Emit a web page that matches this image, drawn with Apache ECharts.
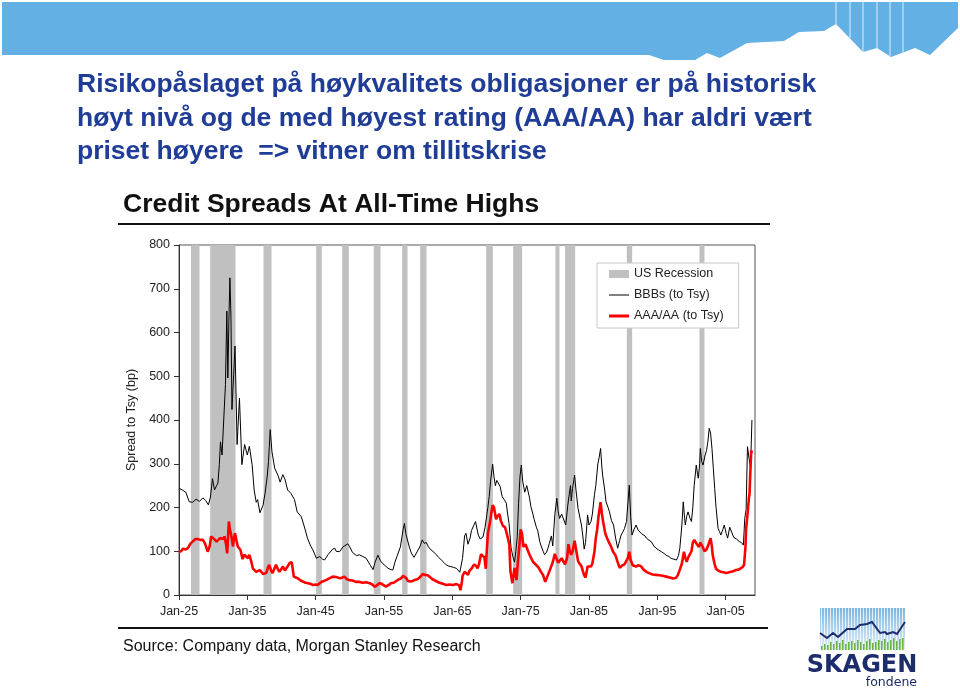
<!DOCTYPE html>
<html>
<head>
<meta charset="utf-8">
<style>html,body{margin:0;padding:0;background:#fff;}#c{width:960px;height:690px;}</style>
<script src="https://cdn.jsdelivr.net/npm/echarts@6/dist/echarts.min.js"></script>
</head>
<body>
<div id="c"></div>
<script>
// ---------- data ----------
const BASE_YEAR = 1925;
const xTickYears = [1925, 1935, 1945, 1955, 1965, 1975, 1985, 1995, 2005];
const yTicks = [0, 100, 200, 300, 400, 500, 600, 700, 800];

const recessions = [
  [1926.75, 1928.0], [1929.56, 1933.27], [1937.37, 1938.54], [1945.07, 1945.9],
  [1948.88, 1949.85], [1953.5, 1954.5], [1957.66, 1958.44], [1960.29, 1961.22],
  [1969.95, 1970.93], [1973.9, 1975.22], [1980.1, 1980.68], [1981.5, 1982.98],
  [1990.54, 1991.32], [2001.17, 2001.9]
];

const bbb = [
  [1925.0,244],[1925.5,240],[1926.0,235],[1926.5,213],[1927.0,212],[1927.5,219],[1928.0,214],[1928.5,222],
  [1928.9,216],[1929.3,206],[1929.6,224],[1929.9,266],[1930.2,240],[1930.5,250],[1930.7,256],[1930.9,298],
  [1931.07,350],[1931.3,320],[1931.56,405],[1931.8,481],[1932.0,649],[1932.15,496],[1932.3,626],[1932.45,725],
  [1932.6,640],[1932.75,424],[1933.0,504],[1933.2,569],[1933.5,344],[1933.85,450],[1934.2,298],[1934.6,344],
  [1935.0,320],[1935.3,340],[1935.7,298],[1936.0,240],[1936.3,212],[1936.5,218],[1936.85,188],[1937.3,205],
  [1937.6,233],[1937.9,270],[1938.1,305],[1938.35,378],[1938.6,328],[1939.0,290],[1939.5,273],[1939.8,258],
  [1940.2,275],[1940.5,265],[1940.9,240],[1941.4,232],[1941.9,218],[1942.3,190],[1942.9,179],[1943.4,153],
  [1943.8,130],[1944.3,111],[1944.6,103],[1945.1,84],[1945.3,82],[1945.6,88],[1946.0,82],[1946.3,80],
  [1946.8,92],[1947.0,90],[1947.5,105],[1947.8,107],[1948.0,100],[1948.5,99],[1949.0,110],[1949.7,117],
  [1950.0,110],[1950.4,97],[1951.0,90],[1951.4,92],[1951.9,88],[1952.4,84],[1952.6,80],[1953.0,68],
  [1953.4,58],[1953.7,75],[1954.1,91],[1954.5,78],[1954.8,72],[1955.1,68],[1955.6,61],[1956.0,58],
  [1956.3,57],[1956.6,75],[1956.9,88],[1957.4,110],[1957.8,150],[1958.0,164],[1958.2,140],[1958.7,110],
  [1959.0,96],[1959.4,86],[1960.0,103],[1960.3,112],[1960.6,126],[1960.9,118],[1961.2,120],[1961.5,110],
  [1961.9,103],[1962.3,98],[1962.6,93],[1963.0,86],[1963.4,80],[1963.8,74],[1964.1,69],[1964.5,66],
  [1964.8,65],[1965.2,63],[1965.6,61],[1966.1,52],[1966.3,48],[1966.5,84],[1966.8,135],[1967.0,141],
  [1967.3,116],[1967.6,130],[1967.8,147],[1968.1,158],[1968.4,168],[1968.8,137],[1969.1,128],[1969.5,133],
  [1969.8,155],[1970.0,158],[1970.2,200],[1970.4,225],[1970.6,260],[1970.9,299],[1971.1,270],[1971.3,250],
  [1971.5,262],[1971.7,266],[1972.0,248],[1972.3,225],[1972.6,218],[1972.9,210],[1973.1,185],[1973.3,164],
  [1973.6,108],[1973.9,85],[1974.1,75],[1974.3,100],[1974.5,133],[1974.7,210],[1974.9,270],[1975.1,297],
  [1975.3,260],[1975.6,235],[1975.9,250],[1976.1,246],[1976.3,222],[1976.5,202],[1976.8,185],[1977.0,172],
  [1977.3,155],[1977.5,147],[1977.8,122],[1978.0,112],[1978.3,100],[1978.5,92],[1978.8,98],[1979.0,107],
  [1979.2,118],[1979.5,135],[1979.7,112],[1980.0,183],[1980.3,221],[1980.5,190],[1980.7,175],[1981.0,185],
  [1981.2,183],[1981.6,160],[1981.9,205],[1982.1,229],[1982.3,250],[1982.4,215],[1982.6,244],[1982.9,274],
  [1983.1,240],[1983.4,198],[1983.7,175],[1983.9,160],[1984.1,135],[1984.3,105],[1984.5,120],[1984.8,183],
  [1985.0,160],[1985.3,168],[1985.5,185],[1985.8,229],[1986.0,250],[1986.3,300],[1986.5,315],[1986.7,335],
  [1986.9,290],[1987.0,274],[1987.3,240],[1987.5,213],[1987.8,200],[1988.0,190],[1988.3,170],[1988.6,160],
  [1988.9,130],[1989.2,107],[1989.5,125],[1989.7,137],[1990.0,145],[1990.2,152],[1990.5,168],[1990.7,210],
  [1990.9,251],[1991.1,180],[1991.3,137],[1991.6,150],[1991.9,160],[1992.2,148],[1992.4,145],[1992.7,140],
  [1992.9,137],[1993.2,135],[1993.4,130],[1993.8,125],[1994.1,122],[1994.5,112],[1994.8,107],[1995.2,103],
  [1995.6,99],[1996.0,95],[1996.3,91],[1996.7,88],[1997.0,84],[1997.4,82],[1997.8,80],[1998.1,90],
  [1998.3,107],[1998.6,160],[1998.8,213],[1999.0,175],[1999.1,160],[1999.3,180],[1999.5,190],[1999.8,175],
  [2000.0,168],[2000.2,200],[2000.4,251],[2000.7,297],[2000.9,275],[2001.0,267],[2001.2,300],[2001.3,335],
  [2001.5,305],[2001.7,297],[2002.0,320],[2002.2,330],[2002.4,350],[2002.6,381],[2002.8,370],[2003.0,335],
  [2003.2,290],[2003.4,244],[2003.6,200],[2003.9,152],[2004.1,145],[2004.3,137],[2004.6,150],[2004.8,160],
  [2005.1,140],[2005.3,130],[2005.6,155],[2005.8,152],[2006.1,135],[2006.3,130],[2006.6,128],[2007.0,122],
  [2007.3,120],[2007.6,114],[2007.8,175],[2008.0,195],[2008.2,339],[2008.45,310],[2008.65,290],[2008.85,400]
];

const aaa = [
  [1925.0,99],[1925.3,100],[1925.6,106],[1926.0,104],[1926.3,107],[1926.7,118],[1927.0,122],[1927.4,128],
  [1927.75,128],[1928.1,126],[1928.5,126],[1928.8,118],[1929.2,99],[1929.5,112],[1929.7,134],[1930.0,130],
  [1930.2,130],[1930.5,122],[1930.7,118],[1931.0,130],[1931.2,134],[1931.5,128],[1931.65,134],[1931.9,115],
  [1932.05,95],[1932.2,140],[1932.3,168],[1932.45,150],[1932.6,140],[1932.9,111],[1933.05,130],[1933.2,141],
  [1933.4,125],[1933.6,111],[1934.0,103],[1934.3,82],[1934.55,92],[1934.8,88],[1935.1,84],[1935.3,92],
  [1935.6,75],[1935.8,61],[1936.0,58],[1936.3,53],[1936.8,57],[1937.3,48],[1937.8,51],[1938.0,62],
  [1938.2,69],[1938.5,55],[1938.7,50],[1939.0,62],[1939.2,69],[1939.5,58],[1939.7,53],[1940.0,60],
  [1940.2,65],[1940.5,56],[1940.7,53],[1941.0,68],[1941.2,73],[1941.5,75],[1941.8,42],[1942.1,40],
  [1942.4,38],[1942.8,33],[1943.1,31],[1943.5,28],[1943.9,27],[1944.3,25],[1944.6,23],[1945.0,24],
  [1945.3,23],[1945.6,27],[1946.0,31],[1946.5,34],[1947.0,38],[1947.5,42],[1948.0,41],[1948.2,38],
  [1948.6,38],[1949.2,42],[1949.6,36],[1949.9,34],[1950.4,33],[1950.9,30],[1951.4,30],[1951.9,28],
  [1952.4,29],[1952.9,27],[1953.3,24],[1953.6,19],[1953.9,21],[1954.3,27],[1954.6,26],[1955.0,22],
  [1955.3,19],[1955.7,23],[1956.0,27],[1956.4,28],[1956.8,32],[1957.1,35],[1957.5,38],[1957.8,44],
  [1958.0,46],[1958.3,38],[1958.5,32],[1958.9,31],[1959.2,32],[1959.6,35],[1959.9,36],[1960.2,40],
  [1960.7,48],[1961.0,46],[1961.4,45],[1961.8,40],[1962.1,36],[1962.6,32],[1963.1,28],[1963.6,26],
  [1964.1,23],[1964.6,24],[1965.1,23],[1965.6,25],[1965.8,26],[1966.0,22],[1966.2,11],[1966.4,30],
  [1966.5,44],[1966.8,53],[1967.0,50],[1967.3,46],[1967.5,55],[1967.8,60],[1968.0,56],[1968.2,70],
  [1968.5,66],[1968.7,61],[1968.9,70],[1969.2,93],[1969.4,91],[1969.7,86],[1969.9,60],[1970.0,90],
  [1970.2,140],[1970.5,165],[1970.7,187],[1970.9,205],[1971.1,200],[1971.4,173],[1971.6,180],[1971.9,185],
  [1972.1,170],[1972.4,158],[1972.7,155],[1972.9,145],[1973.2,125],[1973.35,115],[1973.5,55],[1973.8,27],
  [1974.0,50],[1974.1,62],[1974.4,34],[1974.6,76],[1974.8,110],[1975.0,150],[1975.2,140],[1975.4,110],
  [1975.7,116],[1975.9,118],[1976.1,100],[1976.3,92],[1976.5,95],[1976.8,76],[1977.0,72],[1977.3,68],
  [1977.6,63],[1977.9,55],[1978.1,50],[1978.3,45],[1978.6,30],[1978.8,38],[1979.1,50],[1979.3,58],
  [1979.5,60],[1979.7,75],[1980.0,94],[1980.2,85],[1980.5,74],[1980.7,78],[1981.0,84],[1981.2,80],
  [1981.5,70],[1981.8,85],[1982.0,116],[1982.2,100],[1982.4,92],[1982.6,100],[1982.9,124],[1983.1,105],
  [1983.4,78],[1983.6,72],[1983.9,66],[1984.1,55],[1984.3,45],[1984.5,40],[1984.8,65],[1985.0,66],
  [1985.3,65],[1985.5,72],[1985.8,99],[1986.0,130],[1986.2,150],[1986.4,180],[1986.7,212],[1986.9,185],
  [1987.1,165],[1987.4,140],[1987.7,128],[1988.0,118],[1988.2,112],[1988.5,100],[1988.9,90],[1989.2,75],
  [1989.5,62],[1989.9,68],[1990.2,70],[1990.4,72],[1990.7,85],[1990.9,99],[1991.1,80],[1991.4,68],
  [1991.9,65],[1992.2,68],[1992.6,66],[1993.0,58],[1993.4,53],[1993.8,50],[1994.3,47],[1994.8,46],
  [1995.3,45],[1995.8,44],[1996.3,42],[1996.8,40],[1997.3,38],[1997.7,39],[1998.0,45],[1998.3,58],
  [1998.6,72],[1998.9,99],[1999.1,85],[1999.3,76],[1999.5,85],[1999.7,91],[2000.0,100],[2000.2,120],
  [2000.4,126],[2000.6,124],[2000.8,116],[2001.1,110],[2001.3,120],[2001.5,122],[2001.7,108],[2001.9,100],
  [2002.2,104],[2002.4,107],[2002.6,120],[2002.8,130],[2003.0,110],[2003.1,92],[2003.4,70],[2003.6,60],
  [2003.9,56],[2004.3,53],[2004.7,52],[2005.1,50],[2005.5,52],[2005.8,53],[2006.2,55],[2006.5,57],
  [2006.9,58],[2007.2,61],[2007.5,64],[2007.7,69],[2007.9,110],[2008.0,152],[2008.2,183],[2008.4,220],
  [2008.5,232],[2008.6,274],[2008.75,330],[2008.85,325]
];

// ---------- chart ----------
const FONT = '"Liberation Sans", Arial, sans-serif';
const toX = y => y - BASE_YEAR;
const xTicks = xTickYears.map(toX);
const X_MAX = 2009.3 - BASE_YEAR;

const chart = echarts.init(document.getElementById('c'), null, {renderer: 'canvas'});

// logo decoration
const logoEls = [];
logoEls.push({type: 'rect', shape: {x: 820, y: 608, width: 85, height: 42},
  style: {fill: new echarts.graphic.LinearGradient(0, 0, 0, 1, [{offset: 0, color: '#7db6df'}, {offset: 1, color: '#e3f0f9'}])}});
for (let x = 821.5; x < 905; x += 3) {
  logoEls.push({type: 'line', shape: {x1: x, y1: 608, x2: x, y2: 650}, style: {stroke: 'rgba(255,255,255,0.75)', lineWidth: 1}});
}
const greenH = [4,6,5,8,6,9,7,10,6,8,9,7,10,8,6,9,11,7,8,10,9,11,8,10,12,9,11,12];
greenH.forEach((h, i) => {
  logoEls.push({type: 'rect', shape: {x: 821 + i * 3, y: 650 - h, width: 1.6, height: h}, style: {fill: '#6cb43f'}});
});
logoEls.push({type: 'polyline', shape: {points: [[820,633],[827,638],[833,633],[838,637],[847,629],[855,629],[860,625],[867,624],[872,622],[880,633],[885,632],[887,634],[893,632],[897,634],[905,622]]},
  style: {stroke: '#1d2d6b', lineWidth: 2, fill: null}});
logoEls.push({type: 'text', x: 862, y: 666, style: {text: 'SKAGEN', font: 'bold 24px "DejaVu Sans", sans-serif', fill: '#1d2d6b', align: 'center', verticalAlign: 'middle'}});
logoEls.push({type: 'text', x: 917, y: 683, style: {text: 'fondene', font: '12.5px "DejaVu Sans", sans-serif', fill: '#1d2d6b', align: 'right', verticalAlign: 'middle'}});

const stripeXs = [[836, 24], [850, 38], [863, 52], [877, 48], [890, 56], [903, 52]];

// legend line icons (bounding box 20x8 kept by the leading moveTo points)
const thinLineIcon = 'path://M0,0 M20,8 M0,3.5 L20,3.5 L20,4.5 L0,4.5 Z';
const thickLineIcon = 'path://M0,0 M20,8 M0,2.5 L20,2.5 L20,5.5 L0,5.5 Z';

const option = {
  animation: false,
  backgroundColor: '#ffffff',
  textStyle: {fontFamily: FONT},
  title: [
    {text: 'Risikopåslaget på høykvalitets obligasjoner er på historisk\nhøyt nivå og de med høyest rating (AAA/AA) har aldri vært\npriset høyere  => vitner om tillitskrise',
     left: 77, top: 68, padding: 0,
     textStyle: {fontFamily: FONT, fontSize: 26.5, fontWeight: 'bold', color: '#1f3c96', lineHeight: 33.5}},
    {text: 'Credit Spreads At All-Time Highs', left: 123, top: 190, padding: 0,
     textStyle: {fontFamily: FONT, fontSize: 26.5, fontWeight: 'bold', color: '#111', lineHeight: 30}},
    {text: 'Source: Company data, Morgan Stanley Research', left: 123, top: 638, padding: 0,
     textStyle: {fontFamily: FONT, fontSize: 16, fontWeight: 'normal', color: '#111', lineHeight: 18}}
  ],
  graphic: [
    {type: 'polygon', silent: true, z: -1,
     shape: {points: [[2,2],[958,2],[958,28],[930,55],[915,48],[891,57],[877,48],[863,52],[836,24],[824,31],[799,32],[784,41],[747,43],[720,58],[707,53],[695,60],[664,60],[649,55],[2,55]]},
     style: {fill: '#63b0e4'}},
    ...stripeXs.map(([x, yb]) => ({type: 'line', silent: true, z: 0, shape: {x1: x, y1: 2, x2: x, y2: yb}, style: {stroke: 'rgba(255,255,255,0.8)', lineWidth: 1}})),
    {type: 'line', silent: true, shape: {x1: 118, y1: 224, x2: 770, y2: 224}, style: {stroke: '#111', lineWidth: 2}},
    {type: 'line', silent: true, shape: {x1: 118, y1: 628, x2: 768, y2: 628}, style: {stroke: '#111', lineWidth: 2}},
    {type: 'group', silent: true, children: logoEls}
  ],
  legend: {
    orient: 'vertical', left: 597, top: 263,
    padding: [4, 15, 5, 12],
    itemGap: 7, itemWidth: 20, itemHeight: 8,
    backgroundColor: '#fff', borderColor: '#c8c8c8', borderWidth: 1,
    textStyle: {fontFamily: FONT, fontSize: 12.5, color: '#222', lineHeight: 14},
    selectedMode: false,
    data: [
      {name: 'US Recession', icon: 'rect', itemStyle: {color: '#c0c0c0'}},
      {name: 'BBBs (to Tsy)', icon: thinLineIcon, itemStyle: {color: '#000'}},
      {name: 'AAA/AA (to Tsy)', icon: thickLineIcon, itemStyle: {color: '#ff0000'}}
    ]
  },
  grid: {left: 179, top: 245, width: 576, height: 350, show: true, borderColor: '#555', borderWidth: 1, backgroundColor: 'transparent'},
  xAxis: {
    type: 'value', min: 0, max: X_MAX, interval: 10,
    axisLine: {show: true, lineStyle: {color: '#333', width: 1}},
    axisTick: {show: true, length: 5, lineStyle: {color: '#333'}, customValues: xTicks},
    axisLabel: {show: true, margin: 10, fontFamily: FONT, fontSize: 12.5, color: '#222', customValues: xTicks,
      formatter: v => 'Jan-' + String(Math.round(BASE_YEAR + v) % 100).padStart(2, '0')},
    splitLine: {show: false}
  },
  yAxis: {
    type: 'value', min: 0, max: 800, interval: 100,
    name: 'Spread to Tsy (bp)', nameLocation: 'middle', nameGap: 37, nameRotate: 90,
    nameTextStyle: {fontFamily: FONT, fontSize: 12.5, color: '#222'},
    axisLine: {show: true, lineStyle: {color: '#333', width: 1}},
    axisTick: {show: true, length: 5, lineStyle: {color: '#333'}, customValues: yTicks},
    axisLabel: {margin: 9, fontFamily: FONT, fontSize: 12.5, color: '#222', customValues: yTicks},
    splitLine: {show: false}
  },
  series: [
    {
      name: 'US Recession', type: 'custom', z: 1, silent: true,
      itemStyle: {color: '#c0c0c0'},
      encode: {x: [0, 1], y: [2, 3]},
      data: recessions.map(([a, b]) => [toX(a), toX(b), 0, 800]),
      renderItem: (params, api) => {
        const p0 = api.coord([api.value(0), api.value(3)]);
        const p1 = api.coord([api.value(1), api.value(2)]);
        return {type: 'rect', shape: {x: p0[0], y: p0[1], width: p1[0] - p0[0], height: p1[1] - p0[1]}, style: {fill: '#c0c0c0'}};
      }
    },
    {
      name: 'BBBs (to Tsy)', type: 'line', z: 3, symbol: 'none', showSymbol: false, silent: true,
      itemStyle: {color: '#000'},
      lineStyle: {color: '#000', width: 1},
      data: bbb.map(([y, v]) => [toX(y), v])
    },
    {
      name: 'AAA/AA (to Tsy)', type: 'line', z: 4, symbol: 'none', showSymbol: false, silent: true,
      itemStyle: {color: '#ff0000'},
      lineStyle: {color: '#ff0000', width: 2.6},
      data: aaa.map(([y, v]) => [toX(y), v])
    }
  ]
};
chart.setOption(option);
</script>
</body>
</html>
